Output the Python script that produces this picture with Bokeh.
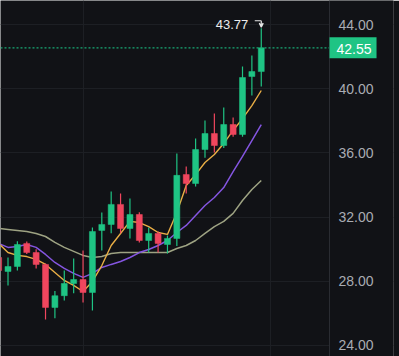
from bokeh.plotting import figure
from bokeh.models import (ColumnDataSource, FixedTicker, Span, Label, Grid, BoxAnnotation,
                          PrintfTickFormatter, Arrow, VeeHead, Range1d)
from bokeh.embed import file_html
from bokeh.resources import INLINE

# ---- data ----
idx = list(range(29))
opens  = [29.48, 28.61, 28.92, 30.36, 29.79, 29.05, 26.37, 27.10, 27.86, 28.11,
          27.30, 31.17, 31.54, 32.79, 31.29, 32.16, 30.54, 30.98, 30.29, 30.67,
          34.65, 34.09, 36.21, 37.21, 36.46, 37.77, 37.15, 40.76, 41.07]
highs  = [29.70, 29.48, 30.50, 30.48, 30.00, 29.10, 27.40, 28.67, 29.42, 29.92,
          31.35, 32.29, 33.60, 33.47, 33.16, 32.30, 31.35, 31.10, 30.85, 35.96,
          35.15, 36.90, 38.02, 38.45, 38.83, 38.21, 41.38, 42.07, 43.77]
lows   = [28.40, 27.74, 28.67, 29.70, 28.80, 25.62, 25.70, 26.80, 27.25, 26.68,
          26.18, 29.92, 31.00, 31.00, 30.67, 30.42, 29.79, 29.79, 29.73, 30.20,
          33.47, 33.90, 35.70, 36.02, 36.30, 37.00, 37.00, 39.58, 40.14]
closes = [28.67, 28.92, 30.29, 29.79, 29.05, 26.37, 27.10, 27.86, 28.11, 27.30,
          31.10, 31.54, 32.79, 31.29, 32.16, 30.54, 30.98, 30.36, 30.67, 34.60,
          34.09, 36.21, 37.21, 36.46, 37.77, 37.15, 40.70, 41.07, 42.55]
ma_fast = [30.36, 29.79, 29.61, 29.54, 29.36, 29.05, 28.55, 28.05, 27.74, 27.36,
           27.99, 28.98, 30.23, 30.98, 31.73, 31.66, 31.41, 31.04, 30.92, 32.29,
           33.97, 34.65, 35.40, 35.90, 36.59, 37.40, 38.14, 38.95, 39.89]
ma_mid  = [30.36, 30.11, 30.17, 30.29, 30.11, 29.67, 29.17, 28.80, 28.49, 28.24,
           28.49, 28.86, 29.05, 29.23, 29.48, 29.79, 29.98, 30.23, 30.54, 31.04,
           31.48, 32.10, 32.72, 33.22, 33.84, 34.84, 35.78, 36.77, 37.77]
ma_slow = [31.29, 31.23, 31.17, 31.10, 30.98, 30.79, 30.42, 30.11, 29.86, 29.61,
           29.48, 29.54, 29.73, 29.79, 29.79, 29.79, 29.79, 29.79, 29.79, 30.04,
           30.23, 30.54, 30.98, 31.41, 31.73, 32.23, 33.03, 33.72, 34.28]
y_ticks = [24, 28, 32, 36, 40, 44]
x_grid_ticks = [9, 29]
last_price = 42.55

# ---- styles / layout constants ----
BG = "#111216"
GRID = "#1d1f24"
UP = "#1fc484"
DOWN = "#f0465e"
TXT = "#a9acb3"

W, H = 399, 356
RIGHT_PAD = 6                 # tiny right border; frame covers the rest
FRAME_W = W - RIGHT_PAD
PX_PER_BAR = 9.38
X0 = 0.2
X1 = X0 + FRAME_W / PX_PER_BAR
X_SEP = X0 + 329 / PX_PER_BAR      # price-scale separator
X_AX = X0 + 370 / PX_PER_BAR       # anchor of the price scale labels
Y0, Y1 = 23.31, 45.50

colors = [UP if c >= o else DOWN for o, c in zip(opens, closes)]
src = ColumnDataSource(dict(
    x=idx, o=opens, h=highs, l=lows, c=closes,
    top=[max(o, c) for o, c in zip(opens, closes)],
    bot=[min(o, c) for o, c in zip(opens, closes)],
    color=colors))

p = figure(width=W, height=H, output_backend="svg", toolbar_location=None,
           x_axis_location=None, y_axis_location="right",
           x_range=Range1d(X0, X1), y_range=Range1d(Y0, Y1),
           min_border_left=0, min_border_top=0, min_border_bottom=0,
           min_border_right=RIGHT_PAD)
p.background_fill_color = BG
p.border_fill_color = BG
p.outline_line_color = None

ax = p.yaxis[0]
ax.fixed_location = X_AX
ax.ticker = FixedTicker(ticks=y_ticks)
ax.formatter = PrintfTickFormatter(format="%.2f")
ax.major_tick_line_color = None
ax.minor_tick_line_color = None
ax.major_tick_out = 0
ax.major_tick_in = 0
ax.axis_line_color = None
ax.major_label_standoff = -32
ax.major_label_text_color = TXT
ax.major_label_text_font = "Liberation Sans"
ax.major_label_text_font_size = "14px"

# grids
for r in list(p.center):
    if isinstance(r, Grid):
        if r.dimension == 1:
            r.ticker = FixedTicker(ticks=y_ticks)
        else:
            r.ticker = FixedTicker(ticks=x_grid_ticks)
        r.grid_line_color = GRID
if not any(isinstance(r, Grid) and r.dimension == 0 for r in p.center):
    p.add_layout(Grid(dimension=0, ticker=FixedTicker(ticks=x_grid_ticks),
                      grid_line_color=GRID))

# price-scale area: plain background + separator line
p.add_layout(BoxAnnotation(left=X_SEP, fill_color=BG, fill_alpha=1.0,
                           line_color=None, level="underlay"))
p.add_layout(Span(location=X_SEP, dimension="height", line_color="#2a2c32",
                  line_width=1))

# moving averages
p.line(idx, ma_slow, line_color="#9ea383", line_width=1.5)
p.line(idx, ma_mid, line_color="#8455e0", line_width=1.5)
p.line(idx, ma_fast, line_color="#e9ae45", line_width=1.4)

# candles
p.segment(x0="x", y0="l", x1="x", y1="h", line_color="color", line_width=1.2, source=src)
p.vbar(x="x", top="top", bottom="bot", width=0.64, fill_color="color",
       line_color="color", line_width=0.5, source=src)

# last price line + tag
p.segment(x0=[X0], y0=[last_price], x1=[X_SEP], y1=[last_price],
          line_color="#18a874", line_dash="2 2", line_width=1.2)
p.add_layout(Label(x=X_SEP, y=last_price, text=f"{last_price:.2f}", text_align="left",
                   text_baseline="middle", text_color="white",
                   text_font="Liberation Sans", text_font_size="14px",
                   background_fill_color=UP, padding=(7, 5, 7, 4)))

# high marker
hi = max(highs)
hi_i = highs.index(hi)
px_y = (Y1 - Y0) / H
hook_y = hi + 7.5 * px_y
p.segment(x0=[hi_i - 6.5 / PX_PER_BAR], y0=[hook_y], x1=[hi_i], y1=[hook_y],
          line_color="#e6e6e6", line_width=1.2)
p.add_layout(Arrow(x_start=hi_i, y_start=hook_y, x_end=hi_i, y_end=hi + 1.0 * px_y,
                   line_color="#e6e6e6", line_width=1.2,
                   end=VeeHead(size=4, line_color="#e6e6e6", line_width=1.2)))
p.add_layout(Label(x=hi_i, y=hi, text=f"{hi:.2f}", text_align="right",
                   text_baseline="alphabetic", x_offset=-13, y_offset=4,
                   text_color="#ececec", text_font="Liberation Sans",
                   text_font_size="13px"))

open("out.html", "w").write(file_html(p, INLINE))
